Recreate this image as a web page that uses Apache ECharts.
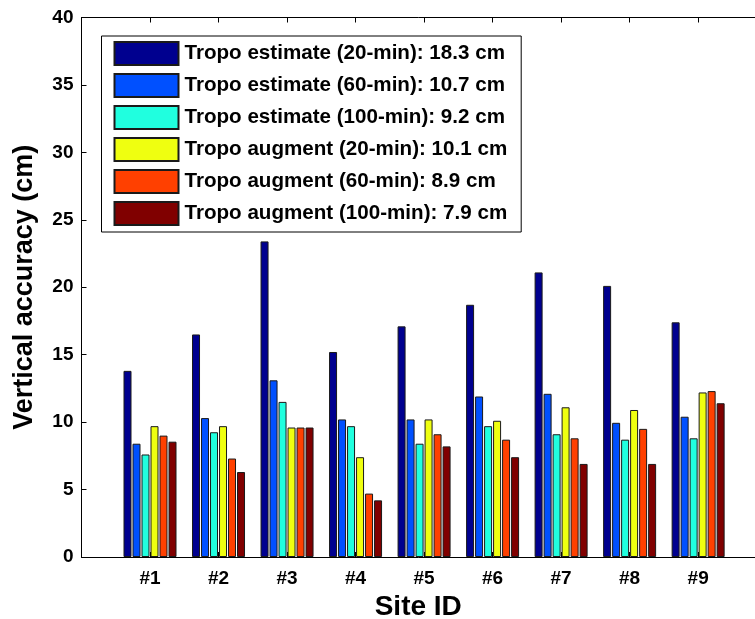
<!DOCTYPE html>
<html>
<head>
<meta charset="utf-8">
<script src="https://cdn.jsdelivr.net/npm/echarts@6/dist/echarts.min.js"></script>
<style>
html,body{margin:0;padding:0;background:#fff;}
#chart{width:755px;height:619px;}
</style>
</head>
<body>
<div id="chart"></div>
<script>
const categories = ['#1', '#2', '#3', '#4', '#5', '#6', '#7', '#8', '#9'];
const seriesNames = [
  'Tropo estimate (20-min): 18.3 cm',
  'Tropo estimate (60-min): 10.7 cm',
  'Tropo estimate (100-min): 9.2 cm',
  'Tropo augment (20-min): 10.1 cm',
  'Tropo augment (60-min): 8.9 cm',
  'Tropo augment (100-min): 7.9 cm'
];
const estimate20 = [13.8, 16.5, 23.4, 15.2, 17.1, 18.7, 21.1, 20.1, 17.4];
const estimate60 = [8.4, 10.3, 13.1, 10.2, 10.2, 11.9, 12.1, 9.95, 10.4];
const estimate100 = [7.6, 9.25, 11.5, 9.7, 8.4, 9.7, 9.1, 8.7, 8.8];
const augment20 = [9.7, 9.7, 9.6, 7.4, 10.2, 10.1, 11.1, 10.9, 12.2];
const augment60 = [9.0, 7.3, 9.6, 4.7, 9.1, 8.7, 8.8, 9.5, 12.3];
const augment100 = [8.55, 6.3, 9.6, 4.2, 8.2, 7.4, 6.9, 6.9, 11.4];
const yTicks = [0, 5, 10, 15, 20, 25, 30, 35, 40];
const colors = ['#00008f', '#0050ff', '#20ffdf', '#efff10', '#ff4000', '#800000'];

const allData = [estimate20, estimate60, estimate100, augment20, augment60, augment100];
const font = '"Liberation Sans", Arial, Helvetica, sans-serif';

const chart = echarts.init(document.getElementById('chart'), null, {renderer: 'canvas'});
const series = allData.map((vals, si) => ({
  name: seriesNames[si],
  type: 'bar',
  barWidth: 8,
  barGap: '12.5%',
  itemStyle: {color: colors[si], borderColor: '#1a1a1a', borderWidth: 1},
  emphasis: {disabled: true},
  data: vals.map((v, i) => [i + 1, v])
}));

const xMax = 9.83;

chart.setOption({
  animation: false,
  backgroundColor: '#fff',
  color: colors,
  grid: {left: 81.5, top: 17.5, right: 0, bottom: 62, containLabel: false, outerBoundsMode: 'none'},
  legend: {
    orient: 'vertical',
    left: 101.5,
    top: 36,
    padding: [5, 14, 6, 12],
    itemWidth: 64,
    itemHeight: 23,
    itemGap: 7,
    backgroundColor: '#fff',
    borderColor: '#000',
    borderWidth: 1,
    borderRadius: 0,
    selectedMode: false,
    icon: 'rect',
    textStyle: {fontFamily: font, fontWeight: 'bold', fontSize: 20.6, lineHeight: 23, color: '#000', padding: [0, 0, 0, 1]},
    data: seriesNames
  },
  xAxis: [{
    type: 'value',
    min: 0, max: xMax, interval: 1,
    position: 'bottom',
    name: 'Site ID',
    nameLocation: 'middle',
    nameGap: 36,
    nameTextStyle: {fontFamily: font, fontWeight: 'bold', fontSize: 28, color: '#000'},
    axisLine: {show: true, lineStyle: {color: '#000', width: 1}},
    axisTick: {show: true, inside: true, length: 5, lineStyle: {color: '#000'}},
    axisLabel: {
      margin: 12,
      showMaxLabel: false,
      fontFamily: font, fontWeight: 'bold', fontSize: 19, color: '#000',
      formatter: v => (Number.isInteger(v) && v >= 1 && v <= categories.length) ? categories[v - 1] : ''
    },
    splitLine: {show: false}
  }, {
    type: 'value',
    min: 0, max: xMax, interval: 1,
    position: 'top',
    axisLine: {show: true, lineStyle: {color: '#000', width: 1}},
    axisTick: {show: true, inside: true, length: 5, lineStyle: {color: '#000'}},
    axisLabel: {show: false},
    splitLine: {show: false}
  }],
  yAxis: {
    type: 'value',
    min: yTicks[0], max: yTicks[yTicks.length - 1], interval: 5,
    name: 'Vertical accuracy (cm)',
    nameLocation: 'middle',
    nameGap: 43,
    nameTextStyle: {fontFamily: font, fontWeight: 'bold', fontSize: 27, color: '#000'},
    axisLine: {show: true, lineStyle: {color: '#000', width: 1}},
    axisTick: {show: true, inside: true, length: 5, lineStyle: {color: '#000'}},
    axisLabel: {margin: 8, fontFamily: font, fontWeight: 'bold', fontSize: 19, color: '#000'},
    splitLine: {show: false}
  },
  series: series
});
</script>
</body>
</html>
